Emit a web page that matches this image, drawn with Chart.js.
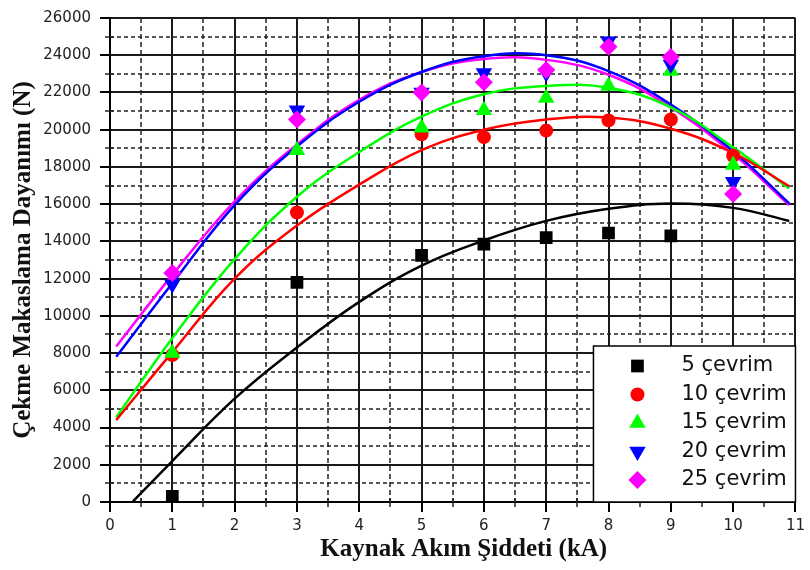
<!DOCTYPE html>
<html>
<head>
<meta charset="utf-8">
<script src="https://cdn.jsdelivr.net/npm/chart.js@4.4.1/dist/chart.umd.min.js"></script>
<style>
  html, body { margin: 0; padding: 0; background: #fff; }
  #chart { display: block; }
</style>
</head>
<body>
<canvas id="chart" width="810" height="570"></canvas>
<script>
// Measured shear strength (N) per weld current (kA)
const currents = [1, 3, 5, 6, 7, 8, 9, 10];
const cycles5  = [300, 11800, 13250, 13850, 14200, 14450, 14300];
const cycles10 = [7900, 15550, 19750, 19600, 19950, 20500, 20550, 18600];
const cycles15 = [8000, 18900, 20100, 21050, 21700, 22350, 23150, 18100];
const cycles20 = [11700, 21050, 22000, 23050, 23050, 24750, 23500, 17200];
const cycles25 = [12300, 20550, 22000, 22550, 23200, 24450, 23900, 16550];

// Fitted trend curves, sampled along the current axis
const fitX   = [0.1, 1, 2, 3, 4, 5, 6, 7, 8, 9, 10, 10.9];
const fitX5  = [0.36, 1, 2, 3, 4, 5, 6, 7, 8, 9, 10, 10.9];
const fit5   = [0, 2200, 5550, 8300, 10750, 12700, 14050, 15100, 15750, 16030, 15800, 15100];
const fit10  = [4400, 8050, 12000, 14850, 17050, 18900, 20000, 20550, 20650, 20050, 18750, 16960];
const fit15  = [4550, 8800, 13050, 16400, 18800, 20700, 21900, 22350, 22250, 21200, 19050, 16840];
const fit20  = [7800, 11750, 15950, 19100, 21500, 23100, 23950, 24000, 23150, 21350, 18850, 16040];
const fit25  = [8350, 12200, 16150, 19200, 21600, 23100, 23800, 23750, 22950, 21200, 18700, 15950];

const xTicks = [0, 1, 2, 3, 4, 5, 6, 7, 8, 9, 10, 11];
const yTicks = [0, 2000, 4000, 6000, 8000, 10000, 12000, 14000, 16000, 18000, 20000, 22000, 24000, 26000];

const series = [
  { label: '5 çevrim',  data: cycles5,  fit: fit5,  fx: fitX5, color: '#000000', style: 'rect',     rot: 0,   r: 9 },
  { label: '10 çevrim', data: cycles10, fit: fit10, fx: fitX,  color: '#ff0000', style: 'circle',   rot: 0,   r: 7 },
  { label: '15 çevrim', data: cycles15, fit: fit15, fx: fitX,  color: '#00ff00', style: 'triangle', rot: 0,   r: 9.5 },
  { label: '20 çevrim', data: cycles20, fit: fit20, fx: fitX,  color: '#0000ff', style: 'triangle', rot: 180, r: 9.5 },
  { label: '25 çevrim', data: cycles25, fit: fit25, fx: fitX,  color: '#ff00ff', style: 'rectRot',  rot: 0,   r: 9 }
];

const pairs = (xs, ys) => ys.map((y, i) => ({ x: xs[i], y: y }));

const datasets = [];
series.forEach((s, i) => {
  datasets.push({
    label: s.label,
    data: pairs(currents, s.data),
    showLine: false,
    pointStyle: s.style,
    rotation: s.rot,
    pointRadius: s.r,
    pointHoverRadius: s.r,
    backgroundColor: s.color,
    borderColor: s.color,
    pointBorderWidth: 0,
    order: 5 - i
  });
  datasets.push({
    label: s.label + ' fit',
    data: pairs(s.fx, s.fit),
    showLine: true,
    pointRadius: 0,
    borderColor: s.color,
    borderWidth: 2.5,
    tension: 0.4,
    fill: false,
    order: 10 + i
  });
});

// dashed half-step grid and short minor ticks crossing the axes
const minorGrid = {
  id: 'minorGrid',
  beforeDatasetsDraw(chart) {
    const { ctx, chartArea: a, scales: { x, y } } = chart;
    ctx.save();
    ctx.strokeStyle = '#222';
    ctx.lineWidth = 1.5;
    for (const t of x.ticks) {
      if (Number.isInteger(t.value)) continue;
      const px = Math.round(x.getPixelForValue(t.value));
      ctx.setLineDash([5, 3]);
      ctx.beginPath(); ctx.moveTo(px, a.top); ctx.lineTo(px, a.bottom); ctx.stroke();
      ctx.setLineDash([]);
      ctx.beginPath(); ctx.moveTo(px, a.bottom - 4); ctx.lineTo(px, a.bottom + 5); ctx.stroke();
    }
    for (const t of y.ticks) {
      if (t.value % 2000 === 0) continue;
      const py = Math.round(y.getPixelForValue(t.value));
      ctx.setLineDash([4, 3]);
      ctx.beginPath(); ctx.moveTo(a.left, py); ctx.lineTo(a.right, py); ctx.stroke();
      ctx.setLineDash([]);
      ctx.beginPath(); ctx.moveTo(a.left - 5, py); ctx.lineTo(a.left + 4, py); ctx.stroke();
    }
    ctx.restore();
  }
};

// bottom axis title, drawn a little right of centre
const xTitle = {
  id: 'xTitle',
  afterDraw(chart) {
    const { ctx, chartArea: a } = chart;
    ctx.save();
    ctx.font = 'bold 25px "Liberation Serif"';
    ctx.fillStyle = '#111';
    ctx.textAlign = 'center';
    ctx.textBaseline = 'middle';
    ctx.fillText('Kaynak Akım Şiddeti (kA)', (a.left + a.right) / 2 + 11, a.bottom + 48);
    ctx.restore();
  }
};

// boxed legend in the lower right corner of the plot
const cornerLegend = {
  id: 'cornerLegend',
  afterDraw(chart) {
    const { ctx, chartArea: a } = chart;
    const right = a.right, bottom = a.bottom;
    const left = right - 202, top = bottom - 156;
    ctx.save();
    ctx.fillStyle = '#fff';
    ctx.fillRect(left, top, right - left, bottom - top);
    ctx.strokeStyle = '#000';
    ctx.lineWidth = 1.5;
    ctx.strokeRect(left, top, right - left, bottom - top);
    ctx.font = '21px "DejaVu Sans"';
    ctx.textBaseline = 'middle';
    ctx.textAlign = 'left';
    series.forEach((s, i) => {
      const cy = top + 20 + i * 28.5;
      ctx.fillStyle = s.color;
      ctx.strokeStyle = s.color;
      Chart.helpers.drawPoint(ctx, { pointStyle: s.style, rotation: s.rot, radius: s.r, borderWidth: 0 }, left + 44, cy);
      ctx.fillStyle = '#111';
      ctx.fillText(s.label, left + 88, cy);
    });
    ctx.restore();
  }
};

const isMajorX = c => c.tick && Number.isInteger(c.tick.value);
const isMajorY = c => c.tick && c.tick.value % 2000 === 0;

new Chart(document.getElementById('chart'), {
  type: 'scatter',
  data: { datasets: datasets },
  options: {
    responsive: false,
    animation: false,
    layout: { padding: { top: 14, right: 9, left: 0, bottom: 0 } },
    plugins: { legend: { display: false }, tooltip: { enabled: false } },
    scales: {
      x: {
        type: 'linear',
        min: 0,
        max: 11,
        afterFit: s => { s.height = 68; },
        ticks: {
          stepSize: 0.5,
          autoSkip: false,
          maxRotation: 0,
          padding: 5,
          color: '#222',
          font: { family: 'DejaVu Sans', size: 15 },
          callback: v => xTicks.includes(v) ? v : ''
        },
        grid: {
          color: c => isMajorX(c) ? '#1a1a1a' : 'rgba(0,0,0,0)',
          tickColor: c => isMajorX(c) ? '#000' : 'rgba(0,0,0,0)',
          lineWidth: 2,
          tickLength: 10
        },
        border: { color: '#000', width: 2 }
      },
      y: {
        min: 0,
        max: 26000,
        afterFit: s => { s.width = 110; },
        ticks: {
          stepSize: 1000,
          autoSkip: false,
          padding: 9,
          color: '#222',
          font: { family: 'DejaVu Sans', size: 15 },
          callback: v => yTicks.includes(v) ? v : ''
        },
        grid: {
          color: c => isMajorY(c) ? '#1a1a1a' : 'rgba(0,0,0,0)',
          tickColor: c => isMajorY(c) ? '#000' : 'rgba(0,0,0,0)',
          lineWidth: 2,
          tickLength: 10
        },
        border: { color: '#000', width: 2 },
        title: {
          display: true,
          text: 'Çekme Makaslama Dayanımı (N)',
          color: '#111',
          font: { family: 'Liberation Serif', size: 25, weight: 'bold' },
          padding: { top: 9, bottom: 0 }
        }
      }
    }
  },
  plugins: [minorGrid, xTitle, cornerLegend]
});
</script>
</body>
</html>
